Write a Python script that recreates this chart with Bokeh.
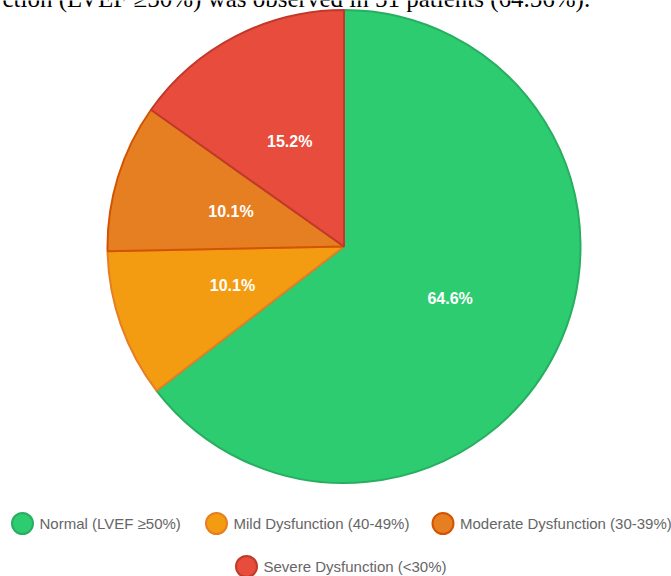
import math
from bokeh.plotting import figure
from bokeh.models import Range1d, ColumnDataSource
from bokeh.core.properties import value
from bokeh.embed import file_html
from bokeh.resources import INLINE

# ---- data ----
categories = ["Normal (LVEF \u226550%)", "Mild Dysfunction (40-49%)",
              "Moderate Dysfunction (30-39%)", "Severe Dysfunction (<30%)"]
patients = [51, 8, 8, 12]
fill_colors = ["#2ecc71", "#f39c12", "#e67e22", "#e74c3c"]
line_colors = ["#27ae60", "#e67e22", "#d35400", "#c0392b"]
caption = "ction (LVEF \u226550%) was observed in 51 patients (64.56%)."

# ---- layout ----
W, H = 671, 576
cx, cy = 343.5, H - 246
R = 236.5
legend_x = [22, 216, 442.5, 246]
legend_y = [H - 523, H - 523, H - 523, H - 566]

total = sum(patients)
fracs = [v / total for v in patients]
starts, ends, mids, labels = [], [], [], []
acc = 0.0
for f in fracs:
    s = math.pi / 2 - 2 * math.pi * acc
    acc += f
    e = math.pi / 2 - 2 * math.pi * acc
    starts.append(s)
    ends.append(e)
    mids.append((s + e) / 2)
    labels.append(f"{f * 100:.1f}%")

src = ColumnDataSource(dict(
    cat=categories, start=starts, end=ends, fill=fill_colors, line=line_colors,
    lx=[cx + 0.5 * R * math.cos(m) for m in mids],
    ly=[cy + 0.5 * R * math.sin(m) for m in mids],
    label=labels,
))

p = figure(width=W, height=H, x_range=Range1d(0, W), y_range=Range1d(0, H),
           output_backend="svg", toolbar_location=None,
           x_axis_location=None, y_axis_location=None, min_border=0)
p.grid.visible = False
p.outline_line_color = None
p.background_fill_color = "white"
p.border_fill_color = "white"

p.wedge(x=cx, y=cy, radius=R, start_angle="start", end_angle="end",
        direction="clock", fill_color="fill", line_color="line",
        line_width=2, source=src)

p.text(x="lx", y="ly", text="label", source=src, text_color="white",
       text_font=value("Liberation Sans"), text_font_style="bold",
       text_font_size="16px", text_align="center", text_baseline="middle")

# legend
lsrc = ColumnDataSource(dict(
    x=legend_x, y=legend_y, tx=[x + 17 for x in legend_x],
    cat=categories, fill=fill_colors, line=line_colors))
p.scatter(x="x", y="y", size=21, marker="circle", fill_color="fill",
          line_color="line", line_width=2, source=lsrc)
p.text(x="tx", y="y", text="cat", source=lsrc, text_color="#666666",
       text_font=value("Liberation Sans"), text_font_size="15px",
       text_align="left", text_baseline="middle")

# caption line at the top, clipped by the page edge as in the reference
p.text(x=[2], y=[H + 2], text=[caption], text_color="black",
       text_font=value("Liberation Serif"), text_font_size="25px",
       text_align="left", text_baseline="alphabetic")

open("out.html", "w").write(file_html(p, INLINE))
